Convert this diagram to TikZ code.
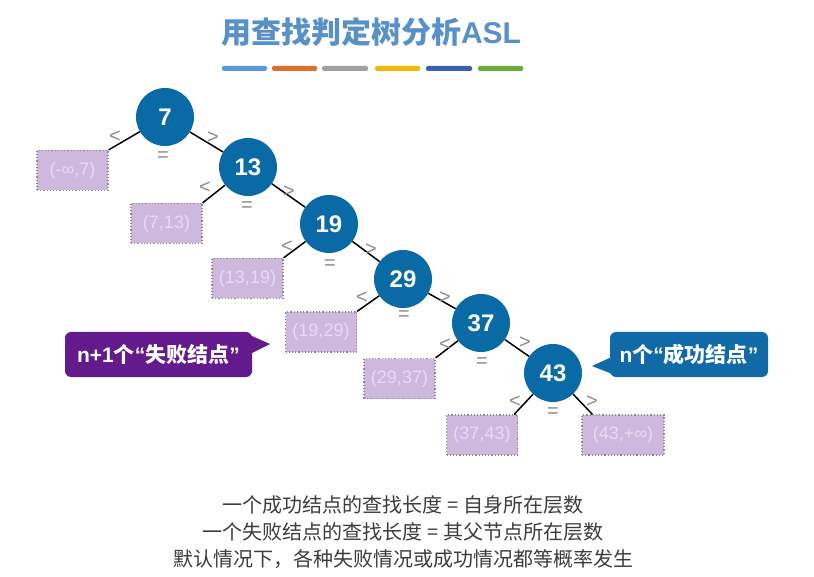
\documentclass[tikz,border=0pt]{standalone}
\usepackage{fontspec}
\setmainfont{Liberation Sans}
\newfontfamily\cjk{Noto Sans CJK SC}
\usetikzlibrary{calc}
\definecolor{nodeblue}{RGB}{10,106,166}
\definecolor{boxfill}{RGB}{206,184,222}
\definecolor{boxborder}{RGB}{140,140,140}
\definecolor{boxtext}{RGB}{230,220,240}
\definecolor{cmpgray}{RGB}{140,140,140}
\definecolor{failpurple}{RGB}{98,26,140}
\definecolor{succblue}{RGB}{16,106,168}
\definecolor{titleblue}{RGB}{88,144,200}
\definecolor{bottomgray}{RGB}{60,60,60}
\definecolor{barA}{RGB}{91,155,213}
\definecolor{barB}{RGB}{222,112,40}
\definecolor{barC}{RGB}{160,160,160}
\definecolor{barD}{RGB}{240,184,0}
\definecolor{barE}{RGB}{58,95,173}
\definecolor{barF}{RGB}{106,170,58}
\begin{document}
\begin{tikzpicture}[x=1pt,y=-1pt,
  tnode/.style={circle,fill=nodeblue,minimum size=58pt,inner sep=0pt,text=white,font=\fontsize{24}{24}\selectfont\bfseries},
  fbox/.style={rectangle,fill=boxfill,draw=boxborder,dotted,line width=1.2pt,minimum width=71pt,minimum height=40pt,inner sep=0pt,text=boxtext,font=\fontsize{18}{18}\selectfont},
  edge/.style={line width=1.5pt,black},
  cmp/.style={text=cmpgray,font=\fontsize{20}{20}\selectfont,inner sep=0pt},
  eqlabel/.style={cmp,yshift=-3pt},
  callout/.style={rectangle,rounded corners=6pt,minimum height=45pt,inner sep=0pt,text=white,font=\fontsize{21}{21}\selectfont\bfseries},
  bar/.style={rounded corners=1.5pt},
  bottomtext/.style={text=bottomgray,font=\cjk\fontsize{20}{20}\selectfont,inner sep=0pt}
]
\useasboundingbox (0,0) rectangle (814,577);

% title
\node[text=titleblue,font=\fontsize{30}{30}\selectfont\bfseries,inner sep=0pt] (title) at (371,32) {{\cjk\bfseries 用查找判定树分析}ASL};
\fill[bar,barA] (222,66) rectangle (267,71);
\fill[bar,barB] (272,66) rectangle (317,71);
\fill[bar,barC] (322,66) rectangle (368,71);
\fill[bar,barD] (375,66) rectangle (420,71);
\fill[bar,barE] (426,66) rectangle (472,71);
\fill[bar,barF] (478,66) rectangle (523,71);

% failure boxes
\node[fbox] (f0) at (72.5,170.5) {(-∞,7)};
\node[fbox] (f1) at (166.5,223.5) {(7,13)};
\node[fbox] (f2) at (247.5,278.5) {(13,19)};
\node[fbox] (f3) at (321,332) {(19,29)};
\node[fbox] (f4) at (399.5,378.5) {(29,37)};
\node[fbox] (f5) at (482,435) {(37,43)};
\node[fbox,minimum width=82pt] (f6) at (623,435) {(43,+∞)};

% tree nodes
\node[tnode] (n7) at (165,117) {7};
\node[tnode] (n13) at (248,167) {13};
\node[tnode] (n19) at (329,224) {19};
\node[tnode] (n29) at (403,279) {29};
\node[tnode] (n37) at (481,323) {37};
\node[tnode] (n43) at (553,373) {43};

% edges
\draw[edge] (n7) -- (f0.north east);
\draw[edge] (n7) -- (n13);
\draw[edge] (n13) -- (f1.north east);
\draw[edge] (n13) -- (n19);
\draw[edge] (n19) -- (f2.north east);
\draw[edge] (n19) -- (n29);
\draw[edge] (n29) -- (f3.north east);
\draw[edge] (n29) -- (n37);
\draw[edge] (n37) -- (f4.north east);
\draw[edge] (n37) -- (n43);
\coordinate (f5top) at ($(f5.north east)+(-4,0)$);
\coordinate (f6top) at ($(f6.north west)+(11,0)$);
\draw[edge] (n43) -- (f5top);
\draw[edge] (n43) -- (f6top);

% comparison labels
\node[cmp] (l7) at (115,137) {<};
\node[cmp] (g7) at (213,138) {>};
\node[eqlabel] (e7) at (163,154) {=};
\node[cmp] (l13) at (205,188) {<};
\node[cmp] (g13) at (289,192) {>};
\node[eqlabel] (e13) at (247,204) {=};
\node[cmp] (l19) at (287,247) {<};
\node[cmp] (g19) at (371,250) {>};
\node[eqlabel] (e19) at (330,262) {=};
\node[cmp] (l29) at (362,298) {<};
\node[cmp] (g29) at (445,298) {>};
\node[eqlabel] (e29) at (404,313) {=};
\node[cmp] (l37) at (445,345) {<};
\node[cmp] (g37) at (525,343) {>};
\node[eqlabel] (e37) at (482,360) {=};
\node[cmp] (l43) at (515,402) {<};
\node[cmp] (g43) at (592,402) {>};
\node[eqlabel] (e43) at (553,410) {=};

% callouts
\node[callout,fill=failpurple,minimum width=187pt] (fail) at (158.5,354.5) {n+1{\cjk\bfseries 个}“{\cjk\bfseries 失败结点}”};
\coordinate (failtip) at (270,344);
\fill[failpurple] ($(fail.north east)+(-3,3)$) -- (failtip) -- ($(fail.east)+(-3,0)$) -- cycle;
\node[callout,fill=succblue,minimum width=158pt] (succ) at (689,354.5) {n{\cjk\bfseries 个}“{\cjk\bfseries 成功结点}”};
\coordinate (succtip) at (592,366);
\fill[succblue] ($(succ.west)+(3,2)$) -- (succtip) -- ($(succ.south west)+(3,-3)$) -- cycle;

% bottom text
\node[bottomtext] (t1) at (403,505) {一个成功结点的查找长度 = 自身所在层数};
\node[bottomtext] (t2) at (403,532) {一个失败结点的查找长度 = 其父节点所在层数};
\node[bottomtext] (t3) at (403,559) {默认情况下，各种失败情况或成功情况都等概率发生};
\end{tikzpicture}
\end{document}
